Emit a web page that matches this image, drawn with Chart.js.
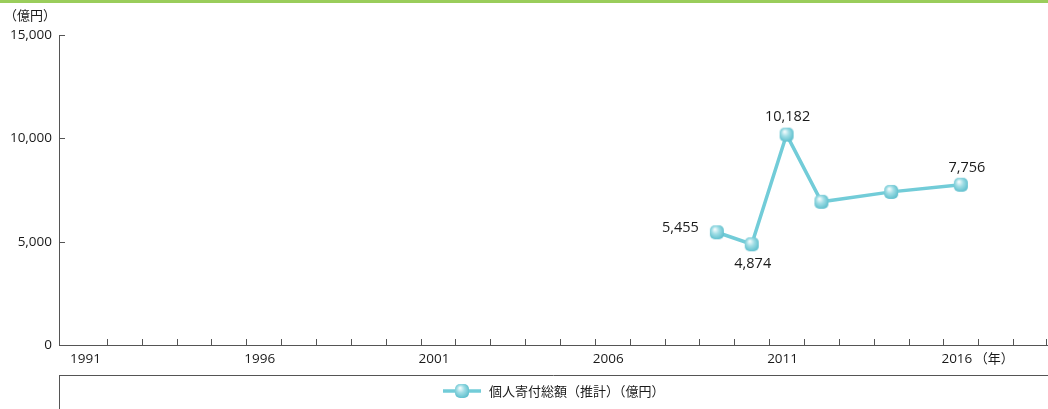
<!DOCTYPE html>
<html>
<head>
<meta charset="utf-8">
<script src="https://cdn.jsdelivr.net/npm/chart.js@4"></script>
<style>
  body { margin: 0; background: #fff; }
  canvas { display: block; }
</style>
</head>
<body>
<canvas id="chart" width="1048" height="409"></canvas>
<script>
// データ
const years = [2009, 2010, 2011, 2012, 2014, 2016];
const donations = [5455, 4874, 10182, 6931, 7409, 7756];
const tickYears = [1991, 1996, 2001, 2006, 2011, 2016];
const yTicks = [0, 5000, 10000, 15000];
const seriesName = '個人寄付総額（推計）（億円）';

// ラベル表示位置 (index -> 位置)
const labelPlace = { 0: 'left', 1: 'below', 2: 'above', 5: 'aboveRight' };

const axisColor = '#555';
const lineColor = '#72ccd8';
const textColor = '#1a1a1a';
const latin = '"Open Sans", "Noto Sans", sans-serif';
const cjk = '"Noto Sans CJK JP", "Noto Sans", sans-serif';

// マーカー画像
const makeMarker = () => {
    const c = document.createElement('canvas');
    c.width = 16; c.height = 16;
    const g = c.getContext('2d');
    const grad = g.createRadialGradient(6, 5, 0.5, 8, 8, 10);
    grad.addColorStop(0, '#f2fbfc');
    grad.addColorStop(0.35, '#9fdde5');
    grad.addColorStop(1, '#3fb0c1');
    g.fillStyle = grad;
    g.beginPath();
    g.roundRect(1, 1, 14, 14, 5);
    g.fill();
    return c;
};
const marker = makeMarker();

const decor = {
    id: 'decor',
    afterDraw(chart) {
        const ctx = chart.ctx;
        const x = chart.scales.x, y = chart.scales.y;
        const area = chart.chartArea;
        ctx.save();

        // 上部の緑帯
        ctx.fillStyle = '#9acd5b';
        ctx.fillRect(0, 0, chart.width, 3);

        ctx.strokeStyle = axisColor;
        ctx.lineWidth = 1;
        ctx.beginPath();
        // y軸の目盛り(内向き)
        yTicks.forEach(v => {
            const py = Math.round(y.getPixelForValue(v)) + 0.5;
            ctx.moveTo(area.left, py);
            ctx.lineTo(area.left + 6, py);
        });
        // x軸の目盛り(年の境目)
        for (let yr = 1991; yr <= 2018; yr++) {
            let px = Math.round(x.getPixelForValue(yr + 0.5)) + 0.5;
            if (px > chart.width - 1) px = chart.width - 1.5;
            ctx.moveTo(px, area.bottom);
            ctx.lineTo(px, area.bottom - 6);
        }
        // 凡例枠
        ctx.moveTo(area.left, 375.5);
        ctx.lineTo(chart.width, 375.5);
        ctx.moveTo(area.left + 0.5, 375);
        ctx.lineTo(area.left + 0.5, chart.height);
        ctx.stroke();

        // 単位
        ctx.fillStyle = textColor;
        ctx.font = '13px ' + cjk;
        ctx.textBaseline = 'middle';
        ctx.textAlign = 'left';
        ctx.fillText('（億円）', 4, 15);
        ctx.fillText('（年）', x.getPixelForValue(2016) + 14, 358);

        // データラベル
        const meta = chart.getDatasetMeta(0);
        ctx.font = '14.5px ' + latin;
        Object.keys(labelPlace).forEach(k => {
            const i = Number(k);
            const pt = meta.data[i];
            const txt = donations[i].toLocaleString('en-US');
            const place = labelPlace[k];
            if (place === 'left') {
                ctx.textAlign = 'right';
                ctx.fillText(txt, pt.x - 18, pt.y - 4);
            } else if (place === 'below') {
                ctx.textAlign = 'center';
                ctx.fillText(txt, pt.x + 1, pt.y + 20);
            } else if (place === 'above') {
                ctx.textAlign = 'center';
                ctx.fillText(txt, pt.x + 1, pt.y - 18);
            } else {
                ctx.textAlign = 'center';
                ctx.fillText(txt, pt.x + 6, pt.y - 17);
            }
        });

        // 凡例
        const ly = 391;
        ctx.strokeStyle = lineColor;
        ctx.lineWidth = 3.5;
        ctx.beginPath();
        ctx.moveTo(443, ly);
        ctx.lineTo(481, ly);
        ctx.stroke();
        ctx.drawImage(marker, 454, ly - 8);
        ctx.fillStyle = textColor;
        ctx.font = '13px ' + cjk;
        ctx.textAlign = 'left';
        ctx.fillText(seriesName, 489, ly);

        ctx.restore();
    }
};

new Chart(document.getElementById('chart'), {
    type: 'line',
    data: {
        datasets: [{
            label: seriesName,
            data: years.map((yr, i) => ({ x: yr, y: donations[i] })),
            borderColor: lineColor,
            borderWidth: 3.5,
            pointStyle: marker,
            pointRadius: 8,
            tension: 0
        }]
    },
    options: {
        responsive: false,
        animation: false,
        layout: { autoPadding: false, padding: { top: 35, right: 0, left: 0, bottom: 0 } },
        plugins: { legend: { display: false }, tooltip: { enabled: false } },
        scales: {
            x: {
                type: 'linear',
                min: 1990.127,
                max: 2018.5,
                afterBuildTicks: (s) => { s.ticks = tickYears.map(v => ({ value: v })); },
                afterFit: (s) => { s.height = 64; },
                grid: { display: false, drawTicks: false },
                border: { display: true, color: axisColor, width: 1 },
                ticks: {
                    autoSkip: false,
                    maxRotation: 0,
                    padding: 6,
                    labelOffset: -4,
                    color: textColor,
                    font: { family: latin, size: 13.5 },
                    callback: (v) => String(v)
                }
            },
            y: {
                min: 0,
                max: 15000,
                afterBuildTicks: (s) => { s.ticks = yTicks.map(v => ({ value: v })); },
                afterFit: (s) => { s.width = 59; },
                grid: { display: false, drawTicks: false },
                border: { display: true, color: axisColor, width: 1 },
                ticks: {
                    padding: 7,
                    color: textColor,
                    font: { family: latin, size: 13.5 },
                    callback: (v) => v.toLocaleString('en-US')
                }
            }
        }
    },
    plugins: [decor]
});
</script>
</body>
</html>
